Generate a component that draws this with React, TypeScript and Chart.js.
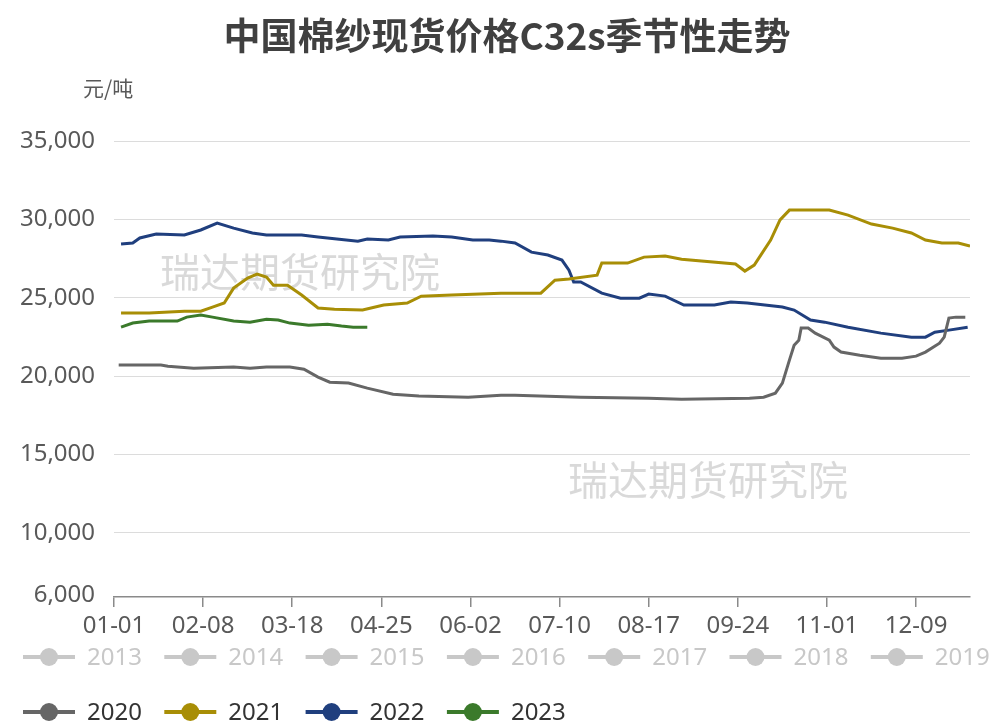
import React, { useEffect, useRef } from 'react';
import { Chart, registerables } from 'chart.js';

Chart.register(...registerables);

const TITLE = '中国棉纱现货价格C32s季节性走势';
const UNIT = '元/吨';
const WATERMARK = '瑞达期货研究院';

const X_TICK_DAYS = [0, 38, 76, 114, 152, 190, 228, 266, 304, 342];
const X_TICK_LABELS = ['01-01', '02-08', '03-18', '04-25', '06-02', '07-10', '08-17', '09-24', '11-01', '12-09'];
const Y_TICKS = [6000, 10000, 15000, 20000, 25000, 30000, 35000];

const YEARS = ['2013', '2014', '2015', '2016', '2017', '2018', '2019', '2020', '2021', '2022', '2023'];
const COLORS = ['#c8c8c8', '#c8c8c8', '#c8c8c8', '#c8c8c8', '#c8c8c8', '#c8c8c8', '#c8c8c8', '#666666', '#a88e06', '#203f7e', '#3b7a2b'];
const HIDDEN = [true, true, true, true, true, true, true, false, false, false, false];

const D2020_DAYS = [2, 20, 23, 34, 51, 58, 65, 75, 81, 87, 92, 100, 108, 119, 130, 151, 165, 171, 199, 228, 242, 271, 277, 282, 285, 288, 290, 292, 293, 296, 299, 305, 307, 310, 318, 327, 336, 342, 346, 352, 354, 356, 359, 363];
const D2020_VALS = [20700, 20700, 20630, 20500, 20570, 20500, 20570, 20570, 20440, 19930, 19610, 19550, 19230, 18840, 18720, 18650, 18780, 18780, 18650, 18590, 18520, 18590, 18650, 18910, 19550, 21020, 21970, 22290, 23060, 23060, 22740, 22290, 21850, 21530, 21330, 21140, 21140, 21270, 21530, 22100, 22480, 23700, 23760, 23760];

const D2021_DAYS = [3, 15, 30, 37, 42, 47, 51, 57, 61, 65, 68, 74, 80, 87, 94, 106, 115, 125, 131, 144, 156, 165, 182, 188, 194, 206, 208, 219, 226, 235, 242, 265, 269, 273, 280, 284, 288, 305, 313, 323, 332, 340, 346, 353, 360, 365];
const D2021_VALS = [24020, 24020, 24140, 24140, 24400, 24660, 25610, 26250, 26510, 26320, 25800, 25800, 25170, 24340, 24270, 24210, 24530, 24660, 25100, 25170, 25230, 25290, 25290, 26120, 26190, 26440, 27210, 27210, 27590, 27660, 27460, 27150, 26700, 27080, 28680, 29960, 30590, 30590, 30270, 29700, 29440, 29130, 28680, 28490, 28490, 28290];

const D2022_DAYS = [3, 8, 11, 18, 30, 37, 44, 51, 59, 65, 80, 87, 104, 108, 117, 122, 136, 144, 153, 160, 165, 171, 178, 185, 191, 194, 196, 199, 208, 216, 224, 228, 235, 243, 256, 263, 270, 285, 290, 297, 303, 313, 327, 340, 346, 350, 356, 364];
const D2022_VALS = [28420, 28490, 28810, 29060, 29000, 29320, 29760, 29440, 29130, 29000, 29000, 28870, 28610, 28740, 28680, 28870, 28930, 28870, 28680, 28680, 28610, 28490, 27910, 27720, 27400, 26760, 26000, 26000, 25290, 24970, 24970, 25230, 25100, 24530, 24530, 24720, 24660, 24400, 24210, 23570, 23440, 23120, 22740, 22480, 22480, 22800, 22930, 23120];

const D2023_DAYS = [3, 8, 15, 27, 31, 37, 42, 51, 58, 65, 70, 75, 83, 91, 97, 102, 108];
const D2023_VALS = [23120, 23380, 23510, 23510, 23760, 23890, 23760, 23510, 23440, 23630, 23570, 23380, 23250, 23310, 23190, 23120, 23120];

const SERIES_DAYS: number[][] = [[], [], [], [], [], [], [], D2020_DAYS, D2021_DAYS, D2022_DAYS, D2023_DAYS];
const SERIES_VALS: number[][] = [[], [], [], [], [], [], [], D2020_VALS, D2021_VALS, D2022_VALS, D2023_VALS];

const FONT = "'Noto Sans', 'Noto Sans CJK SC', sans-serif";
const CJK = "'Noto Sans CJK SC', sans-serif";

const overlayPlugin = {
  id: 'overlay',
  beforeDatasetsDraw(chart: any) {
    const ctx = chart.ctx;
    ctx.save();
    ctx.font = `40px ${CJK}`;
    ctx.fillStyle = 'rgba(170,170,170,0.45)';
    ctx.textAlign = 'left';
    ctx.textBaseline = 'middle';
    ctx.fillText(WATERMARK, 160, 272);
    ctx.fillText(WATERMARK, 568, 480);
    ctx.restore();
  },
  afterDraw(chart: any) {
    const ctx = chart.ctx;
    ctx.save();
    ctx.fillStyle = '#404040';
    ctx.font = `bold 37px ${CJK}`;
    ctx.textAlign = 'center';
    ctx.textBaseline = 'middle';
    ctx.fillText(TITLE, 507, 36);
    ctx.fillStyle = '#595959';
    ctx.font = `21px ${CJK}`;
    ctx.textAlign = 'left';
    ctx.fillText(UNIT, 83, 88);
    chart.data.datasets.forEach((ds: any, i: number) => {
      const row = i < 7 ? 0 : 1;
      const col = i < 7 ? i : i - 7;
      const x0 = 23 + col * 141.3;
      const y = row === 0 ? 657 : 712;
      ctx.strokeStyle = ds.borderColor;
      ctx.lineWidth = 4;
      ctx.beginPath();
      ctx.moveTo(x0, y);
      ctx.lineTo(x0 + 52, y);
      ctx.stroke();
      ctx.fillStyle = ds.borderColor;
      ctx.beginPath();
      ctx.arc(x0 + 26, y, 9, 0, Math.PI * 2);
      ctx.fill();
      ctx.fillStyle = HIDDEN[i] ? '#c8c8c8' : '#333333';
      ctx.font = `24px ${FONT}`;
      ctx.textAlign = 'left';
      ctx.textBaseline = 'middle';
      ctx.fillText(ds.label, x0 + 64, y + 1);
    });
    ctx.restore();
  },
};

export default function App() {
  const ref = useRef<HTMLCanvasElement | null>(null);
  useEffect(() => {
    document.body.style.margin = '0';
    const canvas = ref.current;
    if (!canvas) return;
    const datasets = YEARS.map((y, i) => ({
      label: y,
      data: SERIES_DAYS[i].map((d, k) => ({ x: d, y: SERIES_VALS[i][k] })),
      borderColor: COLORS[i],
      backgroundColor: COLORS[i],
      borderWidth: 3,
      pointRadius: 0,
      tension: 0,
      hidden: HIDDEN[i],
    }));
    const chart = new Chart(canvas, {
      type: 'line',
      data: { datasets },
      plugins: [overlayPlugin],
      options: {
        animation: false,
        responsive: false,
        devicePixelRatio: 1,
        layout: { padding: { top: 141, right: 25, bottom: 84, left: 0 } },
        plugins: {
          legend: { display: false },
          title: { display: false },
          tooltip: { enabled: false },
        },
        scales: {
          x: {
            type: 'linear',
            min: 0,
            max: 365,
            afterBuildTicks: (scale: any) => {
              scale.ticks = X_TICK_DAYS.map((v) => ({ value: v }));
            },
            afterFit: (scale: any) => {
              scale.height = 45;
            },
            ticks: {
              autoSkip: false,
              maxRotation: 0,
              padding: 5,
              color: '#595959',
              font: { family: FONT, size: 24 },
              callback: (value: any) => {
                const idx = X_TICK_DAYS.indexOf(Number(value));
                return idx >= 0 ? X_TICK_LABELS[idx] : '';
              },
            },
            grid: { drawOnChartArea: false, drawTicks: true, tickLength: 10, color: '#8a8a8a', lineWidth: 1.5 },
            border: { display: true, color: '#8a8a8a', width: 1.5 },
          },
          y: {
            type: 'linear',
            min: 5900,
            max: 35000,
            afterBuildTicks: (scale: any) => {
              scale.ticks = Y_TICKS.map((v) => ({ value: v }));
            },
            afterFit: (scale: any) => {
              scale.width = 114;
            },
            ticks: {
              padding: 19,
              color: '#595959',
              font: { family: FONT, size: 24 },
              callback: (value: any) => Number(value).toLocaleString('en-US'),
            },
            grid: {
              drawTicks: false,
              color: (c: any) => (c.tick && c.tick.value === 6000 ? 'rgba(0,0,0,0)' : '#dcdcdc'),
              lineWidth: 1,
            },
            border: { display: false },
          },
        },
      },
    });
    return () => chart.destroy();
  }, []);
  return (
    <div style={{ width: 995, height: 726, background: '#ffffff' }}>
      <canvas ref={ref} width={995} height={726} style={{ display: 'block', width: 995, height: 726 }} />
    </div>
  );
}
